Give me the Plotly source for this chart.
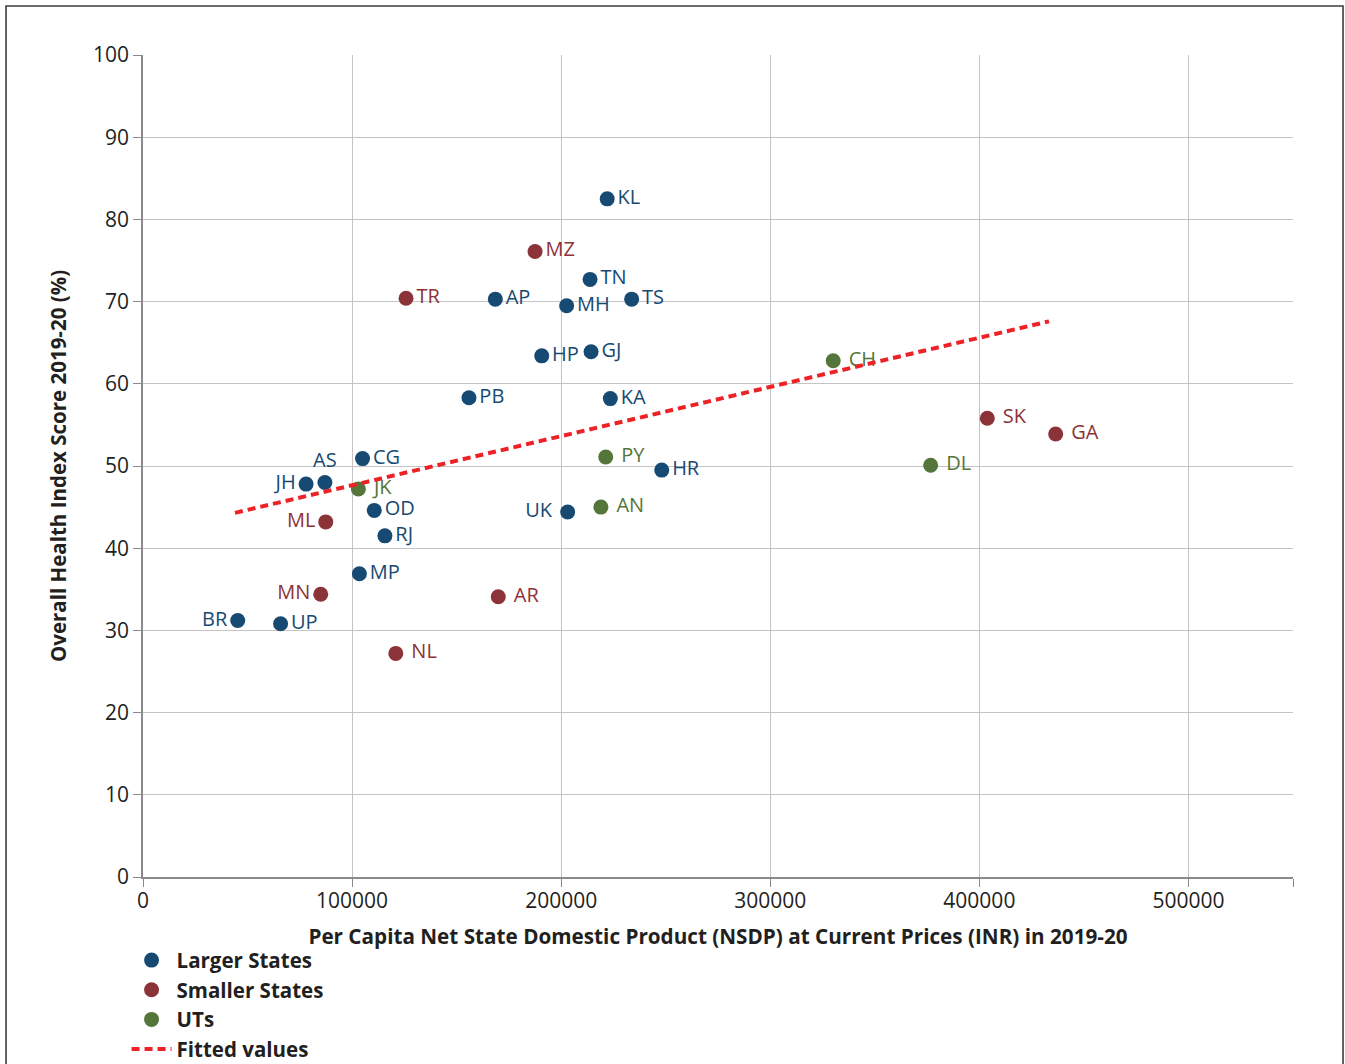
import plotly.graph_objects as go

# ---------------- data ----------------
large_codes = ["KL", "TN", "TS", "AP", "MH", "HP", "GJ", "PB", "KA", "CG",
               "HR", "AS", "JH", "OD", "UK", "RJ", "MP", "BR", "UP"]
large_nsdp = [222000, 213800, 233700, 168500, 202600, 190700, 214300, 155900, 223500, 105000,
              248100, 87000, 78000, 110600, 203100, 115700, 103500, 45300, 65800]
large_score = [82.5, 72.7, 70.3, 70.3, 69.5, 63.4, 63.9, 58.3, 58.2, 50.9,
               49.5, 48.0, 47.8, 44.6, 44.4, 41.5, 36.9, 31.2, 30.8]

small_codes = ["MZ", "TR", "ML", "MN", "AR", "NL", "SK", "GA"]
small_nsdp = [187500, 125800, 87400, 85000, 169900, 120900, 403800, 436500]
small_score = [76.1, 70.4, 43.2, 34.4, 34.1, 27.2, 55.8, 53.9]

ut_codes = ["CH", "PY", "AN", "JK", "DL"]
ut_nsdp = [330100, 221300, 219000, 103000, 376700]
ut_score = [62.8, 51.1, 45.0, 47.2, 50.1]

fit_x = [44000, 433300]
fit_y = [44.3, 67.6]

x_ticks = [0, 100000, 200000, 300000, 400000, 500000, 550000]
x_ticktext = ["0", "100000", "200000", "300000", "400000", "500000", ""]
y_ticks = [0, 10, 20, 30, 40, 50, 60, 70, 80, 90, 100]

# ---------------- label placement ----------------
left_labels = {"JH", "ML", "MN", "BR", "UK"}
top_labels = {"AS"}
wide_gap = {"SK", "GA", "AR", "NL", "DL", "CH", "PY", "AN", "UK", "JK"}


def pos(code):
    if code in left_labels:
        return "middle left"
    if code in top_labels:
        return "top center"
    return "middle right"


def lab(code):
    if code in wide_gap:
        return (code + " ") if code in left_labels else (" " + code)
    return code


BLUE = "#174a72"
RED = "#8c3339"
GREEN = "#54763a"
FONT = "Open Sans"
TXT = "#231f20"

fig = go.Figure()


def add_group(name, codes, xs, ys, color):
    fig.add_trace(go.Scatter(
        x=xs, y=ys, mode="markers+text", name=name,
        text=[lab(c) for c in codes],
        textposition=[pos(c) for c in codes],
        textfont=dict(family=FONT, size=20, color=color),
        marker=dict(size=15, color=color),
        cliponaxis=False,
    ))


add_group("Larger States", large_codes, large_nsdp, large_score, BLUE)
add_group("Smaller States", small_codes, small_nsdp, small_score, RED)
add_group("UTs", ut_codes, ut_nsdp, ut_score, GREEN)

fig.add_trace(go.Scatter(
    x=fit_x, y=fit_y, mode="lines", name="Fitted values",
    line=dict(color="#ec2227", width=4, dash="8px,5px"),
))

# outer frame
fig.add_shape(type="rect", xref="paper", yref="paper",
              x0=-0.1191, x1=1.0435, y0=-0.26, y1=1.0596,
              line=dict(color="#3c3c3c", width=1.6), layer="below")

fig.update_layout(
    width=1345, height=1064,
    margin=dict(l=143, r=52, t=55, b=187, autoexpand=False),
    paper_bgcolor="white", plot_bgcolor="white",
    font=dict(family=FONT, color=TXT),
    showlegend=True,
    legend=dict(
        x=-0.0143, y=-0.077, xanchor="left", yanchor="top",
        font=dict(family=FONT, size=20.5, color=TXT, weight="bold"),
        bgcolor="rgba(0,0,0,0)", tracegroupgap=0,
        itemwidth=40,
    ),
    xaxis=dict(
        range=[0, 550000], tickvals=x_ticks, ticktext=x_ticktext,
        showgrid=True, gridcolor="#c4c4c6", gridwidth=1.2,
        showline=True, linecolor="#8a8a8c", linewidth=1.5, mirror=False,
        ticks="outside", ticklen=8, tickcolor="#8a8a8c", tickwidth=1.2,
        tickfont=dict(family=FONT, size=21, color=TXT),
        ticklabelstandoff=-4,
        zeroline=False,
        title=dict(text="Per Capita Net State Domestic Product (NSDP) at Current Prices (INR) in 2019-20",
                   font=dict(family=FONT, size=20.7, color=TXT, weight="bold"),
                   standoff=17),
    ),
    yaxis=dict(
        range=[0, 100], tickvals=y_ticks,
        showgrid=True, gridcolor="#c4c4c6", gridwidth=1.2,
        showline=True, linecolor="#8a8a8c", linewidth=1.5, mirror=False,
        ticks="outside", ticklen=8, tickcolor="#8a8a8c", tickwidth=1.2,
        tickfont=dict(family=FONT, size=21, color=TXT),
        zeroline=False,
        title=dict(text="Overall Health Index Score 2019-20 (%)",
                   font=dict(family=FONT, size=20.5, color=TXT, weight="bold"),
                   standoff=21),
    ),
)

fig.write_html("out.html", config={"displayModeBar": False},
               post_script="document.body.style.margin='0';")
